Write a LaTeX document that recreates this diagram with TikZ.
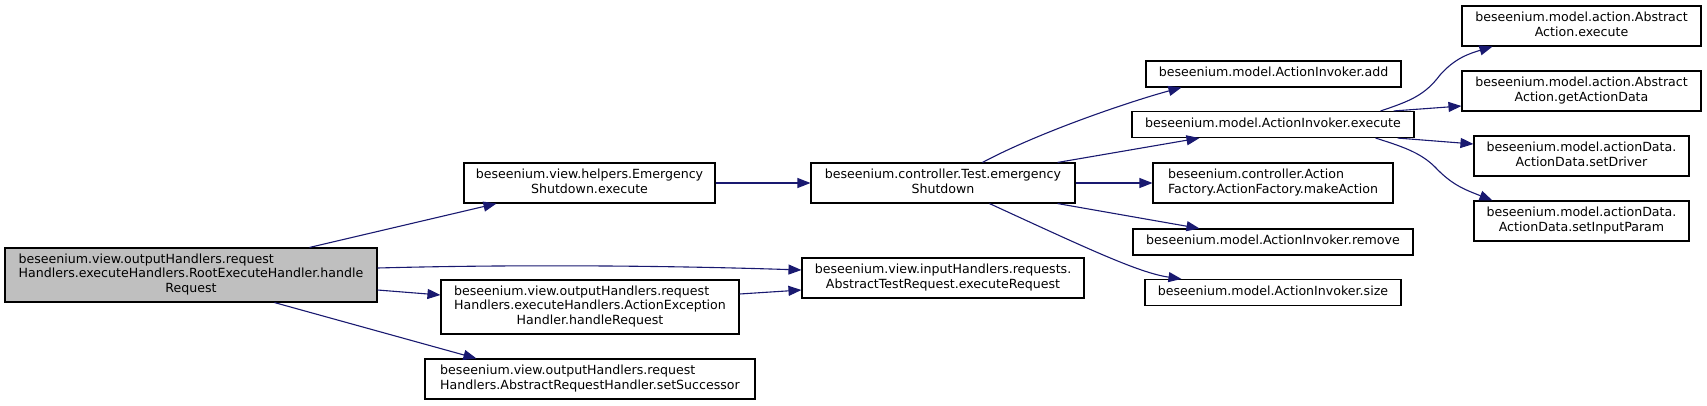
\documentclass[tikz,border=0pt]{standalone}
\usepackage{fontspec}
\setmainfont{DejaVu Sans}
\usetikzlibrary{arrows.meta}
\definecolor{edgeblue}{HTML}{191970}
\definecolor{rootgray}{HTML}{BFBFBF}
\newcommand{\lftline}[1]{\multicolumn{1}{@{}l@{}}{#1}}
\newcommand{\lbl}[1]{\begin{tabular}{@{}c@{}}#1\end{tabular}}
\tikzset{
  fnbox/.style={draw=black, line width=1.1pt, fill=white, rectangle, inner sep=0pt,
    font=\fontsize{12.6}{14.3}\selectfont, anchor=center},
  rootbox/.style={fnbox, fill=rootgray},
  call/.style={draw=edgeblue, line width=1.1pt, -{Triangle[length=13pt,width=10pt]}, fill=none},
}
\begin{document}
\begin{tikzpicture}[x=1pt,y=-1pt]
\useasboundingbox (0,0) rectangle (1707,405);
% nodes
\node[rootbox, minimum width=372pt, minimum height=54pt] (root) at (191,275)
  {\lbl{\lftline{beseenium.view.outputHandlers.request}\\Handlers.executeHandlers.RootExecuteHandler.handle\\Request}};
\node[fnbox, minimum width=251pt, minimum height=40pt] (esx) at (589.5,183)
  {\lbl{beseenium.view.helpers.Emergency\\Shutdown.execute}};
\node[fnbox, minimum width=264pt, minimum height=40pt] (test) at (943,183)
  {\lbl{beseenium.controller.Test.emergency\\Shutdown}};
\node[fnbox, minimum width=282pt, minimum height=40pt] (req) at (943,278)
  {\lbl{beseenium.view.inputHandlers.requests.\\AbstractTestRequest.executeRequest}};
\node[fnbox, minimum width=298pt, minimum height=54pt] (aeh) at (590,307)
  {\lbl{\lftline{beseenium.view.outputHandlers.request}\\Handlers.executeHandlers.ActionException\\Handler.handleRequest}};
\node[fnbox, minimum width=330pt, minimum height=40pt] (succ) at (590,379)
  {\lbl{\lftline{beseenium.view.outputHandlers.request}\\Handlers.AbstractRequestHandler.setSuccessor}};
\node[fnbox, minimum width=255pt, minimum height=26pt] (add) at (1273.5,74)
  {\lbl{beseenium.model.ActionInvoker.add}};
\node[fnbox, minimum width=282pt, minimum height=26pt] (exe) at (1273,124.5)
  {\lbl{beseenium.model.ActionInvoker.execute}};
\node[fnbox, minimum width=240pt, minimum height=40pt] (make) at (1273,183)
  {\lbl{\lftline{beseenium.controller.Action}\\Factory.ActionFactory.makeAction}};
\node[fnbox, minimum width=280pt, minimum height=26pt] (rem) at (1273,242)
  {\lbl{beseenium.model.ActionInvoker.remove}};
\node[fnbox, minimum width=256pt, minimum height=26pt] (size) at (1273,292.5)
  {\lbl{beseenium.model.ActionInvoker.size}};
\node[fnbox, minimum width=239pt, minimum height=40pt] (aexe) at (1581.5,26)
  {\lbl{beseenium.model.action.Abstract\\Action.execute}};
\node[fnbox, minimum width=239pt, minimum height=40pt] (gad) at (1581.5,91)
  {\lbl{beseenium.model.action.Abstract\\Action.getActionData}};
\node[fnbox, minimum width=215pt, minimum height=40pt] (sdr) at (1581.5,156)
  {\lbl{beseenium.model.actionData.\\ActionData.setDriver}};
\node[fnbox, minimum width=215pt, minimum height=40pt] (sip) at (1581.5,221)
  {\lbl{beseenium.model.actionData.\\ActionData.setInputParam}};
% connectors
\draw[call] ([xshift=305pt]root.north west) -- ([xshift=33pt]esx.south west);
\draw[call] ([yshift=7pt]root.east) .. controls +(150,-4) and +(-120,-4) .. ([yshift=8pt]req.west);
\draw[call] ([yshift=-15pt]root.east) -- ([yshift=12pt]aeh.west);
\draw[call] ([xshift=270pt]root.south west) -- ([xshift=52pt]succ.north west);
\draw[call] ([yshift=13pt]aeh.east) -- ([yshift=-12pt]req.west);
\draw[call] (esx.east) -- (test.west);
\draw[call] ([xshift=172pt]test.north west) .. controls +(60,-32) and +(-45,12) .. ([xshift=36pt]add.south west);
\draw[call] ([xshift=-18pt]test.north east) -- ([xshift=68pt]exe.south west);
\draw[call] (test.east) -- (make.west);
\draw[call] ([xshift=-18pt]test.south east) -- ([xshift=67pt]rem.north west);
\draw[call] ([xshift=179pt]test.south west) .. controls +(100,46) and +(-42,-6) .. ([xshift=37pt]size.north west);
\draw[call] ([xshift=-34pt]exe.north east) .. controls +(30,-10) and +(-15,20) .. (1440,75)
  .. controls +(15,-17) and +(-23,7) .. ([xshift=31pt]aexe.south west);
\draw[call] ([xshift=-21pt]exe.north east) -- ([yshift=-15pt]gad.west);
\draw[call] ([xshift=-17pt]exe.south east) -- ([yshift=12pt]sdr.west);
\draw[call] ([xshift=-39pt]exe.south east) .. controls +(25,8) and +(-15,-15) .. (1435,167)
  .. controls +(17,18) and +(-28,-11) .. ([xshift=19pt]sip.north west);
\end{tikzpicture}
\end{document}
